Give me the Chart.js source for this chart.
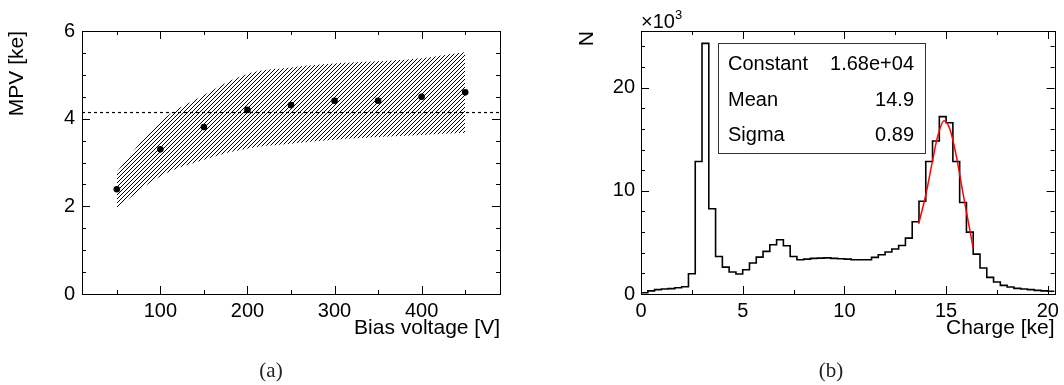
<!DOCTYPE html>
<html><head><meta charset="utf-8">
<script src="https://cdn.jsdelivr.net/npm/chart.js@4.4.1/dist/chart.umd.min.js"></script>
<style>
html,body{margin:0;padding:0;background:#fff;}
#wrap{position:relative;width:1064px;height:385px;overflow:hidden;background:#fff;}
canvas{position:absolute;top:0;}
#ca{left:0;} #cb{left:532px;}
.cap{position:absolute;font-family:'Liberation Serif','Times New Roman',serif;font-size:21px;color:#222;transform:translate(-50%,-50%);top:370px;}
</style></head><body>
<div id="wrap">
<canvas id="ca" width="532" height="385"></canvas>
<canvas id="cb" width="532" height="385"></canvas>
<div class="cap" style="left:271px">(a)</div>
<div class="cap" style="left:831px">(b)</div>
</div>
<script>
// ---------- data: panel (a) ----------
const voltages  = [50, 100, 150, 200, 250, 300, 350, 400, 450];
const mpv       = [2.39, 3.30, 3.81, 4.20, 4.31, 4.41, 4.41, 4.50, 4.60];
const bandUpper = [2.79, 3.93, 4.54, 5.02, 5.17, 5.26, 5.31, 5.38, 5.52];
const bandLower = [1.96, 2.68, 3.06, 3.32, 3.43, 3.52, 3.58, 3.63, 3.68];
const meanLevel = 4.14;
const xRangeA = [10, 490];
const yRangeA = [0, 6];
const xTicksA = [100, 200, 300, 400];
const xMinorA = [50, 150, 250, 350, 450];
const yTicksA = [0, 2, 4, 6];
const yMinorA = [0.5, 1, 1.5, 2.5, 3, 3.5, 4.5, 5, 5.5];

// ---------- data: panel (b) ----------
const histRange = [0, 20.333];
const histCounts = [ // x10^3 entries per bin
  0.12, 0.3, 0.42, 0.48, 0.52, 0.6, 0.7, 1.96, 12.84, 24.3,
  8.26, 3.64, 2.61, 2.13, 1.94, 2.35, 3.0, 3.58, 4.13, 4.77,
  5.26, 4.68, 3.64, 3.32, 3.38, 3.45, 3.48, 3.5, 3.45, 3.42,
  3.38, 3.32, 3.32, 3.32, 3.55, 3.8, 4.07, 4.36, 4.7, 5.42,
  7.0, 9.0, 12.84, 14.84, 17.2, 16.6, 12.84, 8.87, 6.0, 3.87,
  2.52, 1.61, 1.16, 0.84, 0.68, 0.55, 0.48, 0.42, 0.35, 0.3,
  0.27
];
const fitX = [13.65, 14.0, 14.3, 14.6, 14.9, 15.2, 15.5, 15.8, 16.1, 16.33];
const fitY = [6.8, 9.6, 12.6, 15.4, 16.8, 15.9, 13.4, 10.1, 6.9, 4.45];
const yRangeB = [0, 25.5];
const xTicksB = [0, 5, 10, 15, 20];
const xMinorB = [2.5, 7.5, 12.5, 17.5];
const yTicksB = [0, 10, 20];
const yMinorB = [2, 4, 6, 8, 12, 14, 16, 18, 22, 24];
const statNames  = ['Constant', 'Mean', 'Sigma'];
const statValues = ['1.68e+04', '14.9', '0.89'];

// ---------- styling ----------
const FONT = "'Liberation Sans', Arial, Helvetica, sans-serif";
Chart.defaults.font.family = FONT;
Chart.defaults.font.size = 20;
Chart.defaults.color = '#000';
const titleFont = {size: 21};

function hatchPattern() {
  const c = document.createElement('canvas');
  c.width = 4; c.height = 4;
  const g = c.getContext('2d');
  g.strokeStyle = '#000'; g.lineWidth = 1;
  g.beginPath();
  g.moveTo(0, 4); g.lineTo(4, 0);
  g.moveTo(-1, 1); g.lineTo(1, -1);
  g.moveTo(3, 5); g.lineTo(5, 3);
  g.stroke();
  return g.createPattern(c, 'repeat');
}

const framePlugin = {
  id: 'frame',
  afterDraw(chart, args, o) {
    const {ctx, chartArea: a, scales: {x, y}} = chart;
    ctx.save();
    ctx.strokeStyle = '#000'; ctx.lineWidth = 1;
    ctx.strokeRect(Math.round(a.left) + 0.5, Math.round(a.top) + 0.5,
                   Math.round(a.right - a.left), Math.round(a.bottom - a.top));
    ctx.beginPath();
    const xt = (vals, len) => vals.forEach(v => {
      const p = Math.round(x.getPixelForValue(v)) + 0.5;
      ctx.moveTo(p, a.bottom); ctx.lineTo(p, a.bottom - len);
      ctx.moveTo(p, a.top); ctx.lineTo(p, a.top + len);
    });
    const yt = (vals, len) => vals.forEach(v => {
      const p = Math.round(y.getPixelForValue(v)) + 0.5;
      ctx.moveTo(a.left, p); ctx.lineTo(a.left + len, p);
      ctx.moveTo(a.right, p); ctx.lineTo(a.right - len, p);
    });
    xt(o.xMajor, 8); xt(o.xMinor, 4);
    yt(o.yMajor, 8); yt(o.yMinor, 4);
    ctx.stroke();
    ctx.restore();
  }
};

const commonPlugins = {legend: {display: false}, tooltip: {enabled: false}};

// ---------- chart (a) ----------
new Chart(document.getElementById('ca'), {
  type: 'scatter',
  data: {
    datasets: [
      {data: voltages.map((v, i) => ({x: v, y: mpv[i]})), showLine: false,
       pointRadius: 3.3, pointBackgroundColor: '#000', pointBorderWidth: 0, order: 0},
      {data: [{x: xRangeA[0], y: meanLevel}, {x: xRangeA[1], y: meanLevel}], showLine: true,
       borderColor: '#000', borderWidth: 1.2, borderDash: [3, 3], pointRadius: 0, order: 1},
      {data: voltages.map((v, i) => ({x: v, y: bandUpper[i]})), showLine: true,
       borderColor: 'rgba(0,0,0,0)', borderWidth: 0, pointRadius: 0, fill: '+1',
       backgroundColor: hatchPattern(), tension: 0.4, order: 2},
      {data: voltages.map((v, i) => ({x: v, y: bandLower[i]})), showLine: true,
       borderColor: 'rgba(0,0,0,0)', borderWidth: 0, pointRadius: 0, fill: false,
       tension: 0.4, order: 3}
    ]
  },
  options: {
    responsive: false, animation: false, devicePixelRatio: 1,
    layout: {padding: {left: 0, right: 32, top: 31, bottom: 0}},
    plugins: Object.assign({frame: {xMajor: xTicksA, xMinor: xMinorA, yMajor: yTicksA, yMinor: yMinorA}}, commonPlugins),
    scales: {
      x: {type: 'linear', min: xRangeA[0], max: xRangeA[1],
          grid: {display: false, drawTicks: false}, border: {display: false},
          ticks: {padding: 5, maxRotation: 0, autoSkip: false},
          afterBuildTicks: s => { s.ticks = xTicksA.map(v => ({value: v})); },
          afterFit: s => { s.height = 91; },
          title: {display: true, text: 'Bias voltage [V]', align: 'end', font: titleFont, padding: {top: 0, bottom: 44}}},
      y: {type: 'linear', min: yRangeA[0], max: yRangeA[1],
          grid: {display: false, drawTicks: false}, border: {display: false},
          ticks: {padding: 7},
          afterBuildTicks: s => { s.ticks = yTicksA.map(v => ({value: v})); },
          afterFit: s => { s.width = 82; },
          title: {display: true, text: 'MPV [ke]', align: 'end', font: titleFont, padding: {top: 5, bottom: 0}}}
    }
  },
  plugins: [framePlugin]
});

// ---------- chart (b) ----------
const binW = (histRange[1] - histRange[0]) / histCounts.length;
const histPts = histCounts.map((v, i) => ({x: histRange[0] + i * binW, y: v}));
histPts.push({x: histRange[1], y: histCounts[histCounts.length - 1]});

const statsPlugin = {
  id: 'stats',
  afterDraw(chart) {
    const ctx = chart.ctx;
    ctx.save();
    ctx.fillStyle = '#000';
    ctx.font = '20px ' + FONT;
    ctx.textAlign = 'left'; ctx.textBaseline = 'alphabetic';
    ctx.fillText('\u00d710', 109, 28);
    ctx.font = '13px ' + FONT;
    ctx.fillText('3', 143, 19);
    ctx.fillStyle = '#fff';
    ctx.fillRect(186, 43, 207, 110);
    ctx.strokeStyle = '#333'; ctx.lineWidth = 1;
    ctx.strokeRect(186.5, 43.5, 207, 110);
    ctx.fillStyle = '#000';
    ctx.font = '20px ' + FONT;
    const base = [69.5, 106, 140.5];
    statNames.forEach((n, i) => {
      ctx.textAlign = 'left'; ctx.fillText(n, 196, base[i]);
      ctx.textAlign = 'right'; ctx.fillText(statValues[i], 382, base[i]);
    });
    ctx.restore();
  }
};

new Chart(document.getElementById('cb'), {
  type: 'scatter',
  data: {
    datasets: [
      {data: fitX.map((v, i) => ({x: v, y: fitY[i]})), showLine: true,
       borderColor: '#ff0000', borderWidth: 1.5, pointRadius: 0,
       cubicInterpolationMode: 'monotone', order: 0},
      {data: histPts, showLine: true, stepped: true,
       borderColor: '#000', borderWidth: 1.6, pointRadius: 0, order: 1}
    ]
  },
  options: {
    responsive: false, animation: false, devicePixelRatio: 1,
    layout: {padding: {left: 0, right: 4, top: 31, bottom: 0}},
    plugins: Object.assign({frame: {xMajor: xTicksB, xMinor: xMinorB, yMajor: yTicksB, yMinor: yMinorB}}, commonPlugins),
    scales: {
      x: {type: 'linear', min: histRange[0], max: histRange[1],
          grid: {display: false, drawTicks: false}, border: {display: false},
          ticks: {padding: 5, maxRotation: 0, autoSkip: false},
          afterBuildTicks: s => { s.ticks = xTicksB.map(v => ({value: v})); },
          afterFit: s => { s.height = 91; },
          title: {display: true, text: 'Charge [ke]', align: 'end', font: titleFont, padding: {top: 0, bottom: 44}}},
      y: {type: 'linear', min: yRangeB[0], max: yRangeB[1],
          grid: {display: false, drawTicks: false}, border: {display: false},
          ticks: {padding: 6},
          afterBuildTicks: s => { s.ticks = yTicksB.map(v => ({value: v})); },
          afterFit: s => { s.width = 109; },
          title: {display: true, text: 'N', align: 'end', font: titleFont, padding: {top: 43, bottom: 0}}}
    }
  },
  plugins: [framePlugin, statsPlugin]
});
</script>
</body></html>
